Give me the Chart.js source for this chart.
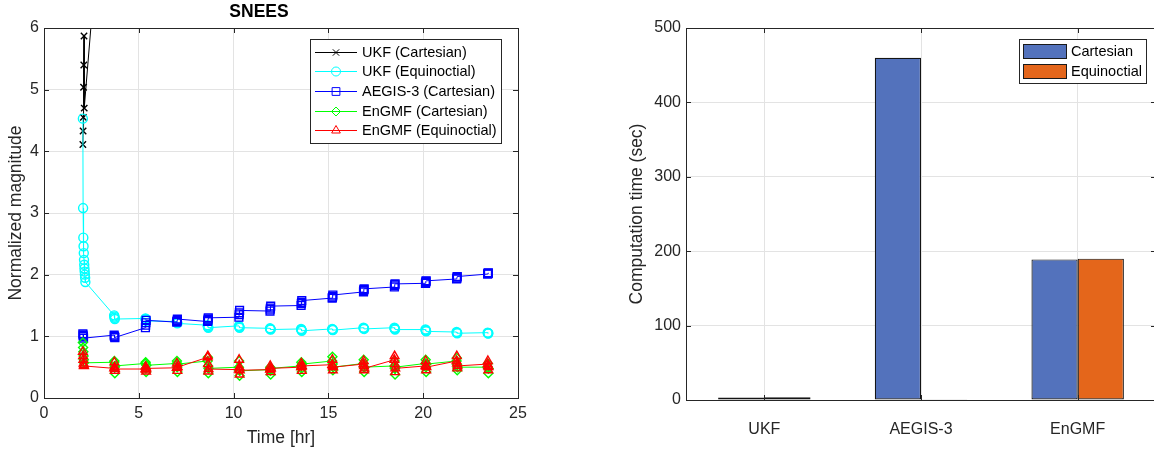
<!DOCTYPE html>
<html>
<head>
<meta charset="utf-8">
<script src="https://cdn.jsdelivr.net/npm/chart.js@4.4.1/dist/chart.umd.min.js"></script>
<style>
  html, body { margin: 0; padding: 0; background: #fff; }
  body { width: 1154px; height: 453px; position: relative; overflow: hidden; }
  .panel { position: absolute; top: 0; height: 453px; }
  #left { left: 0; width: 560px; }
  #right { left: 580px; width: 580px; }
</style>
</head>
<body>
<div class="panel" id="left"><canvas id="chartNees"></canvas></div>
<div class="panel" id="right"><canvas id="chartTime"></canvas></div>
<script>
// start time of each tracking pass [hr] and spacing of samples inside a pass
const passStart = [2.05, 3.70, 5.35, 7.00, 8.63, 10.28, 11.92, 13.56, 15.20, 16.85, 18.48, 20.12, 21.76, 23.40];
const sampleStep = 0.012;

// normalized magnitude per pass
const ukfCartesian = [
  [4.11, 4.33, 4.55, 5.04, 5.40, 5.87, 4.70],
  [10.6], [15.3], [21.0]
];
const ukfEquinoctial = [
  [4.53, 3.08, 2.60, 2.46, 2.35, 2.24, 2.16, 2.10, 2.05, 2.00, 1.95, 1.88],
  [1.34, 1.32, 1.30, 1.28], [1.29, 1.28, 1.27, 1.25], [1.24, 1.23, 1.22, 1.21],
  [1.18, 1.16, 1.15, 1.14], [1.17, 1.16, 1.15, 1.14], [1.13, 1.12, 1.12, 1.11],
  [1.12, 1.11, 1.10, 1.09], [1.12, 1.11, 1.11, 1.10], [1.14, 1.13, 1.13, 1.12],
  [1.14, 1.13, 1.12, 1.11], [1.11, 1.10, 1.09, 1.08], [1.07, 1.06, 1.06, 1.05],
  [1.06, 1.05, 1.05, 1.05]
];
const aegisCartesian = [
  [1.04, 1.02, 1.00, 0.97], [1.02, 1.00, 0.99, 0.98], [1.14, 1.18, 1.22, 1.26],
  [1.23, 1.24, 1.26, 1.28], [1.24, 1.26, 1.28, 1.30], [1.31, 1.35, 1.38, 1.42],
  [1.41, 1.44, 1.46, 1.49], [1.50, 1.53, 1.55, 1.58], [1.62, 1.63, 1.65, 1.67],
  [1.72, 1.74, 1.76, 1.77], [1.80, 1.82, 1.84, 1.85], [1.86, 1.87, 1.89, 1.90],
  [1.93, 1.94, 1.96, 1.97], [2.01, 2.02, 2.02, 2.03]
];
const engmfCartesian = [
  [0.90, 0.82, 0.75, 0.68, 0.62, 0.57],
  [0.58, 0.60, 0.50, 0.40, 0.52], [0.56, 0.58, 0.48, 0.42, 0.53], [0.56, 0.60, 0.50, 0.42, 0.55],
  [0.60, 0.66, 0.52, 0.40, 0.48], [0.50, 0.60, 0.45, 0.36, 0.44], [0.46, 0.50, 0.44, 0.38, 0.48],
  [0.52, 0.58, 0.48, 0.42, 0.55], [0.60, 0.67, 0.55, 0.45, 0.50], [0.56, 0.62, 0.50, 0.42, 0.50],
  [0.52, 0.60, 0.48, 0.38, 0.50], [0.56, 0.62, 0.50, 0.42, 0.55], [0.60, 0.65, 0.54, 0.45, 0.50],
  [0.50, 0.56, 0.48, 0.40, 0.48]
];
const engmfEquinoctial = [
  [0.75, 0.68, 0.62, 0.56, 0.53, 0.52],
  [0.48, 0.58, 0.50, 0.44, 0.47], [0.47, 0.51, 0.46, 0.43, 0.48], [0.49, 0.56, 0.50, 0.44, 0.50],
  [0.66, 0.68, 0.55, 0.43, 0.47], [0.46, 0.62, 0.50, 0.38, 0.45], [0.46, 0.52, 0.47, 0.42, 0.48],
  [0.50, 0.56, 0.50, 0.44, 0.52], [0.54, 0.62, 0.52, 0.45, 0.50], [0.55, 0.60, 0.52, 0.45, 0.48],
  [0.62, 0.68, 0.55, 0.42, 0.48], [0.52, 0.60, 0.52, 0.45, 0.50], [0.60, 0.68, 0.56, 0.48, 0.52],
  [0.55, 0.60, 0.52, 0.45, 0.50]
];

// computation time [sec]
const methods = ['UKF', 'AEGIS-3', 'EnGMF'];
const timeCartesian = [3.5, 460, 189];
const timeEquinoctial = [3.8, 0.5, 190];

const FONT = '"Liberation Sans", Arial, Helvetica, sans-serif';
const AXIS_COLOR = '#262626';
const GRID_COLOR = '#e3e3e3';
Chart.defaults.font.family = FONT;
Chart.defaults.color = AXIS_COLOR;

function toPoints(passes) {
  const pts = [];
  passes.forEach((vals, i) => {
    vals.forEach((v, k) => pts.push({ x: passStart[i] + k * sampleStep, y: v }));
  });
  return pts;
}

function markerPath(ctx, style, r, x, y) {
  ctx.beginPath();
  if (style === 'circle') {
    ctx.arc(x, y, r, 0, Math.PI * 2);
  } else if (style === 'rect') {
    const s = Math.SQRT1_2 * r;
    ctx.rect(x - s, y - s, 2 * s, 2 * s);
  } else if (style === 'rectRot') {
    ctx.moveTo(x - r, y); ctx.lineTo(x, y - r); ctx.lineTo(x + r, y); ctx.lineTo(x, y + r);
    ctx.closePath();
  } else if (style === 'triangle') {
    for (let k = 0; k < 3; k++) {
      const a = k * 2 * Math.PI / 3;
      const px = x + Math.sin(a) * r, py = y - Math.cos(a) * r;
      k ? ctx.lineTo(px, py) : ctx.moveTo(px, py);
    }
    ctx.closePath();
  } else if (style === 'crossRot') {
    const s = Math.SQRT1_2 * r;
    ctx.moveTo(x - s, y - s); ctx.lineTo(x + s, y + s);
    ctx.moveTo(x - s, y + s); ctx.lineTo(x + s, y - s);
  }
  ctx.stroke();
}

// frame around the plot area with inward tick marks on all four sides
const axesBox = {
  id: 'axesBox',
  afterDraw(chart) {
    const { ctx, chartArea: a, scales } = chart;
    const len = 5;
    ctx.save();
    ctx.strokeStyle = AXIS_COLOR;
    ctx.lineWidth = 1;
    ctx.beginPath();
    scales.x.ticks.forEach((t, i) => {
      const px = Math.round(scales.x.getPixelForTick(i)) + 0.5;
      ctx.moveTo(px, a.bottom); ctx.lineTo(px, a.bottom - len);
      ctx.moveTo(px, a.top); ctx.lineTo(px, a.top + len);
    });
    scales.y.ticks.forEach((t, i) => {
      const py = Math.round(scales.y.getPixelForTick(i)) + 0.5;
      ctx.moveTo(a.left, py); ctx.lineTo(a.left + len, py);
      ctx.moveTo(a.right, py); ctx.lineTo(a.right - len, py);
    });
    ctx.stroke();
    ctx.strokeRect(Math.round(a.left) + 0.5, Math.round(a.top) + 0.5,
      Math.round(a.right - a.left), Math.round(a.bottom - a.top));
    ctx.restore();
  }
};

// boxed legend drawn inside the top-right corner of the plot area
const insideLegend = {
  id: 'insideLegend',
  afterDraw(chart, args, opts) {
    if (!opts.display) return;
    const { ctx, chartArea } = chart;
    const items = chart.data.datasets;
    ctx.save();
    ctx.font = `${opts.fontSize}px ${FONT}`;
    const textW = Math.max(...items.map(d => ctx.measureText(d.label).width));
    const w = Math.round(opts.textX + textW + opts.padRight);
    const h = Math.round(opts.rowHeight * items.length + opts.padY * 2);
    const x0 = Math.round(chartArea.right - opts.right - w);
    const y0 = Math.round(chartArea.top + opts.top);
    ctx.fillStyle = '#fff';
    ctx.fillRect(x0, y0, w, h);
    ctx.strokeStyle = AXIS_COLOR;
    ctx.lineWidth = 1;
    ctx.strokeRect(x0 + 0.5, y0 + 0.5, w, h);
    items.forEach((d, i) => {
      const cy = y0 + opts.padY + opts.rowHeight * (i + 0.5);
      if (opts.swatch) {
        ctx.fillStyle = d.backgroundColor;
        ctx.fillRect(x0 + 4, Math.round(cy - 7), 44, 14);
        ctx.strokeStyle = '#1a1a1a';
        ctx.strokeRect(x0 + 4.5, Math.round(cy - 7) + 0.5, 43, 14);
      } else {
        ctx.strokeStyle = d.borderColor;
        ctx.beginPath();
        ctx.moveTo(x0 + 5, Math.round(cy) + 0.5);
        ctx.lineTo(x0 + 47, Math.round(cy) + 0.5);
        ctx.stroke();
        markerPath(ctx, d.pointStyle, d.pointRadius, x0 + 26, Math.round(cy) + 0.5);
      }
      ctx.fillStyle = '#000';
      ctx.textBaseline = 'middle';
      ctx.textAlign = 'left';
      ctx.fillText(d.label, x0 + opts.textX, cy + 1);
    });
    ctx.restore();
  }
};

function lineSeries(label, passes, color, style, radius, order) {
  return {
    label: label,
    data: toPoints(passes),
    borderColor: color,
    borderWidth: 1,
    pointStyle: style,
    pointRadius: radius,
    pointHoverRadius: radius,
    pointBorderColor: color,
    pointBackgroundColor: 'rgba(0,0,0,0)',
    pointBorderWidth: 1.4,
    tension: 0,
    order: order
  };
}

new Chart(document.getElementById('chartNees'), {
  type: 'line',
  data: {
    datasets: [
      lineSeries('UKF (Cartesian)', ukfCartesian, '#000000', 'crossRot', 4.5, 5),
      lineSeries('UKF (Equinoctial)', ukfEquinoctial, '#00ffff', 'circle', 4.5, 4),
      lineSeries('AEGIS-3 (Cartesian)', aegisCartesian, '#0000ff', 'rect', 5.5, 3),
      lineSeries('EnGMF (Cartesian)', engmfCartesian, '#00ff00', 'rectRot', 4.5, 2),
      lineSeries('EnGMF (Equinoctial)', engmfEquinoctial, '#ff0000', 'triangle', 5, 1)
    ]
  },
  options: {
    responsive: true,
    maintainAspectRatio: false,
    animation: false,
    layout: { padding: { left: 0, right: 42, top: 0, bottom: 0 } },
    scales: {
      x: {
        type: 'linear',
        min: 0,
        max: 25,
        ticks: { stepSize: 5, font: { size: 16 }, color: AXIS_COLOR, padding: 6, maxRotation: 0 },
        grid: { color: GRID_COLOR, drawTicks: false },
        border: { display: false },
        title: { display: true, text: 'Time [hr]', font: { size: 17.5 }, color: AXIS_COLOR, padding: { top: 0, bottom: 4 } },
        afterFit: s => { s.height = 55; }
      },
      y: {
        min: 0,
        max: 6,
        ticks: { stepSize: 1, font: { size: 16 }, color: AXIS_COLOR, padding: 5 },
        grid: { color: GRID_COLOR, drawTicks: false },
        border: { display: false },
        title: { display: true, text: 'Normalized magnitude', font: { size: 17.5 }, color: AXIS_COLOR, padding: { top: 6, bottom: 0 } },
        afterFit: s => { s.width = 44; }
      }
    },
    plugins: {
      legend: { display: false },
      tooltip: { enabled: false },
      title: {
        display: true,
        text: 'SNEES',
        font: { size: 17.5, weight: 'bold' },
        color: '#000',
        padding: { top: 2, bottom: 5 }
      },
      insideLegend: { display: true, fontSize: 14.5, textX: 52, padRight: 4, rowHeight: 19.7, padY: 2.8, right: 17, top: 11 }
    }
  },
  plugins: [axesBox, insideLegend]
});

// right panel: its frame runs a little past the page edge
new Chart(document.getElementById('chartTime'), {
  type: 'bar',
  data: {
    labels: methods,
    datasets: [
      { label: 'Cartesian', data: timeCartesian, backgroundColor: '#5372bc', borderColor: '#141414', borderWidth: 1.2, borderSkipped: false },
      { label: 'Equinoctial', data: timeEquinoctial, backgroundColor: '#e4661b', borderColor: '#141414', borderWidth: 1.2, borderSkipped: false }
    ]
  },
  options: {
    responsive: true,
    maintainAspectRatio: false,
    animation: false,
    categoryPercentage: 0.59,
    barPercentage: 1.0,
    layout: { padding: { left: 40, right: 4, top: 28, bottom: 0 } },
    scales: {
      x: {
        offset: true,
        ticks: { font: { size: 16 }, color: AXIS_COLOR, padding: 20, maxRotation: 0 },
        grid: { color: GRID_COLOR, drawTicks: false, offset: false },
        border: { display: false },
        afterFit: s => { s.height = 53; }
      },
      y: {
        min: 0,
        max: 500,
        ticks: { stepSize: 100, font: { size: 16 }, color: AXIS_COLOR, padding: 5 },
        grid: { color: GRID_COLOR, drawTicks: false },
        border: { display: false },
        title: { display: true, text: 'Computation time (sec)', font: { size: 17.5 }, color: AXIS_COLOR, padding: { top: 6.5, bottom: 0 } },
        afterFit: s => { s.width = 66; }
      }
    },
    plugins: {
      legend: { display: false },
      tooltip: { enabled: false },
      insideLegend: { display: true, swatch: true, fontSize: 14.5, textX: 52, padRight: 4, rowHeight: 20, padY: 2, right: 10, top: 11 }
    }
  },
  plugins: [axesBox, insideLegend]
});
</script>
</body>
</html>
